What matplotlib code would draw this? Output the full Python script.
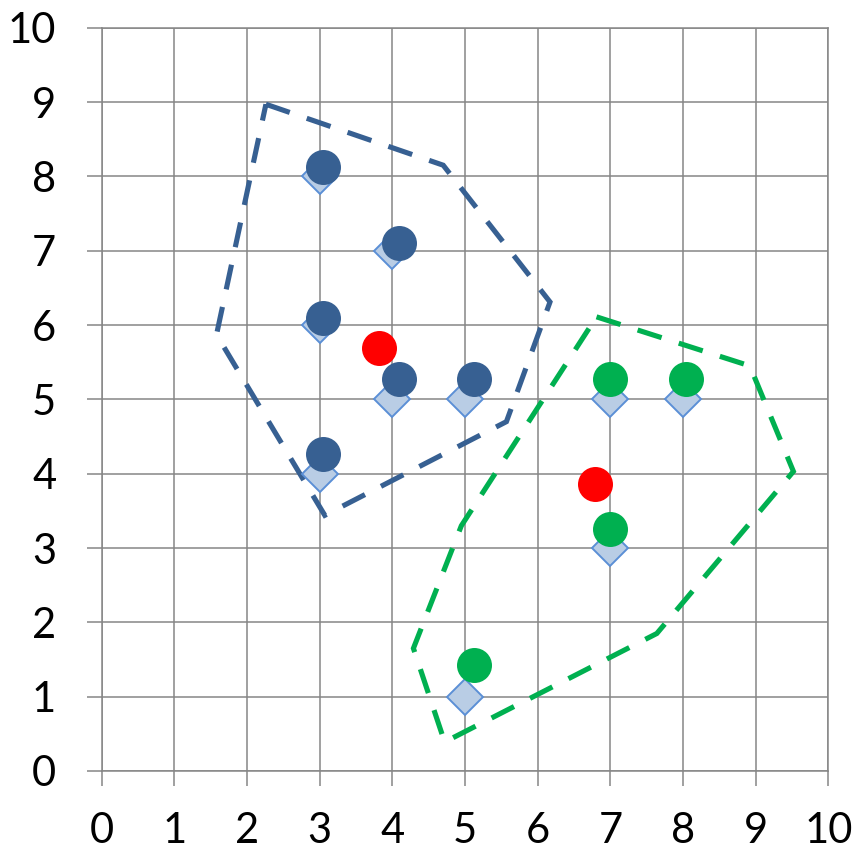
import matplotlib
matplotlib.use("Agg")
import matplotlib.pyplot as plt

# ---- data ----
ticks = list(range(0, 11))
tick_labels = [str(t) for t in ticks]

diamond_x = [3, 4, 3, 4, 5, 3, 7, 8, 7, 5]
diamond_y = [8, 7, 6, 5, 5, 4, 5, 5, 3, 1]

blue_x = [3.05, 4.09, 3.05, 4.09, 5.13, 3.05]
blue_y = [8.13, 7.11, 6.10, 5.28, 5.28, 4.26]

green_x = [7.00, 8.04, 7.00, 5.13]
green_y = [5.28, 5.28, 3.25, 1.42]

red_x = [3.81, 6.79]
red_y = [5.69, 3.86]

blue_hull_x = [2.26, 4.70, 6.17, 5.57, 3.07, 1.58, 2.26]
blue_hull_y = [8.97, 8.15, 6.31, 4.70, 3.44, 5.87, 8.97]

green_hull_x = [6.81, 8.92, 9.52, 7.64, 4.72, 4.29, 4.95, 6.81]
green_hull_y = [6.11, 5.45, 4.03, 1.85, 0.39, 1.65, 3.30, 6.11]

# ---- style ----
plt.rcParams['font.family'] = ['Lato', 'DejaVu Sans']
GRID = '#868686'
DARKBLUE = '#376092'
GREEN = '#00B050'
RED = '#FF0000'
DFILL = '#B9CDE5'
DEDGE = '#5B8FD6'

fig = plt.figure(figsize=(8.58, 8.51), dpi=100)
ax = fig.add_axes([0.11853, 0.09401, 0.84685, 0.87344])

ax.set_xlim(0, 10)
ax.set_ylim(0, 10)
ax.set_xticks(ticks)
ax.set_yticks(ticks)
ax.set_xticklabels(tick_labels)
ax.set_yticklabels(tick_labels)
ax.grid(True, color=GRID, linewidth=1.1)
ax.set_axisbelow(True)
for s in ax.spines.values():
    s.set_color(GRID)
    s.set_linewidth(1.1)
ax.tick_params(axis='both', direction='out', length=10.8, width=1.1,
               color=GRID, labelsize=30, labelcolor='black')
ax.tick_params(axis='y', pad=22)
ax.tick_params(axis='x', pad=18.5)

dash = (0, (4.9, 3.5))
ax.plot(blue_hull_x, blue_hull_y, color=DARKBLUE, lw=3.7, linestyle=dash,
        dash_capstyle='butt', dash_joinstyle='miter', zorder=2)
ax.plot(green_hull_x, green_hull_y, color=GREEN, lw=3.7, linestyle=dash,
        dash_capstyle='butt', dash_joinstyle='miter', zorder=2)

ax.plot(diamond_x, diamond_y, linestyle='none', marker='D', markersize=18.1,
        markerfacecolor=DFILL, markeredgecolor=DEDGE, markeredgewidth=1.4, zorder=3)
ax.plot(blue_x, blue_y, linestyle='none', marker='o', markersize=25.2,
        markerfacecolor=DARKBLUE, markeredgewidth=0, zorder=4)
ax.plot(green_x, green_y, linestyle='none', marker='o', markersize=25.2,
        markerfacecolor=GREEN, markeredgewidth=0, zorder=4)
ax.plot(red_x, red_y, linestyle='none', marker='o', markersize=25.2,
        markerfacecolor=RED, markeredgewidth=0, zorder=4)

fig.savefig('out.png', dpi=100)
